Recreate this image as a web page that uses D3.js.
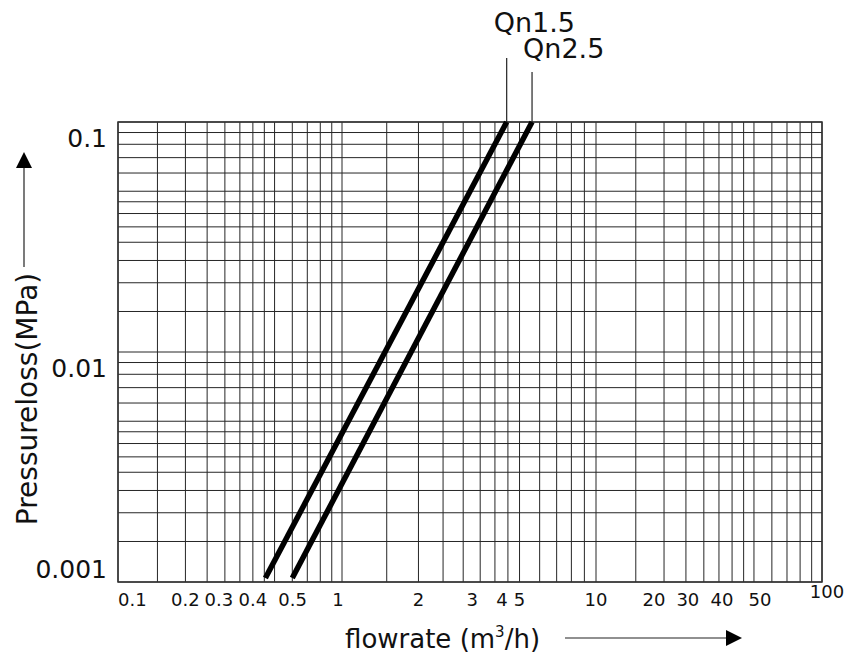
<!DOCTYPE html>
<html>
<head>
<meta charset="utf-8">
<script src="https://cdn.jsdelivr.net/npm/d3@7"></script>
<style>
  body { margin: 0; background: #fff; }
  svg { display: block; font-family: "DejaVu Sans", sans-serif; }
</style>
</head>
<body>
<svg width="849" height="660"></svg>
<script>
/*
 * Pressure loss vs flow rate, log-log
 */

// axis values
const xTicks = [0.1, 0.2, 0.3, 0.4, 0.5, 1, 2, 3, 4, 5, 10, 20, 30, 40, 50, 100];
const yTicks = [0.1, 0.01, 0.001];
const xDecades = [0.1, 1, 10, 100];
const yDecades = [0.001, 0.01, 0.1];
// grid lines inside each decade (multiples of the decade start)
const gridSteps = [1.5, 2, 2.5, 3, 3.5, 4, 4.5, 5, 6, 7, 8, 9];

// series: [flowrate m3/h, pressure loss MPa]
const seriesNames = ['Qn1.5', 'Qn2.5'];
const qn15 = [[0.455, 0.00104], [4.45, 0.1]];
const qn25 = [[0.60, 0.00104], [5.6, 0.1]];
const series = [qn15, qn25];

const $svg = d3.select('svg');

// the printed chart is not a perfect log paper, so the decades get their own widths
const x = d3.scaleLog().domain(xDecades).range([118, 342, 596, 822]);
const y = d3.scaleLog().domain([yDecades[0], yDecades[2]]).range([582, 122]);

const [x0, x1] = [x.range()[0], x.range()[3]];
const [y0, y1] = y.range();

// the tick labels on the original are set by hand, nudge them the same way
const labelNudge = {0.3: -6, 0.5: 18, 1: -4, 3: 9, 4: 7, 20: -10, 30: -16, 40: -10, 50: 6, 100: 5};

function gridValues(decades) {
  const vals = [];
  decades.forEach(function(d, i) {
    vals.push(d);
    if (i < decades.length - 1) {
      gridSteps.forEach(function(s) { vals.push(d * s); });
    }
  });
  return vals;
}

// grid
const $grid = $svg.append('g').attr('stroke', '#262626').attr('stroke-width', 1);
$grid.selectAll('.vx')
  .data(gridValues(xDecades))
  .enter().append('line')
    .attr('x1', d => x(d)).attr('x2', d => x(d))
    .attr('y1', y0).attr('y2', y1);
$grid.selectAll('.hy')
  .data(gridValues(yDecades))
  .enter().append('line')
    .attr('y1', d => y(d)).attr('y2', d => y(d))
    .attr('x1', x0).attr('x2', x1);

// frame
$svg.append('rect')
  .attr('x', x0).attr('y', y1)
  .attr('width', x1 - x0).attr('height', y0 - y1)
  .attr('fill', 'none').attr('stroke', '#333').attr('stroke-width', 1.5);

// x tick labels
$svg.append('g').selectAll('text')
  .data(xTicks)
  .enter().append('text')
    .attr('x', d => x(d) + (labelNudge[d] || 0))
    .attr('y', d => d === 100 ? 598 : 606)
    .attr('text-anchor', d => d === 0.1 ? 'start' : 'middle')
    .attr('font-size', 18)
    .attr('fill', '#111')
    .text(d => d);

// y tick labels, placed under their line, the lowest one above the axis
$svg.append('g').selectAll('text')
  .data(yTicks)
  .enter().append('text')
    .attr('x', 107)
    .attr('y', d => d === yDecades[0] ? y(d) - 4 : y(d) + 25)
    .attr('text-anchor', 'end')
    .attr('font-size', 25)
    .attr('fill', '#111')
    .text(d => d);

// curves
const line = d3.line().x(d => x(d[0])).y(d => y(d[1]));
$svg.append('g').selectAll('path')
  .data(series)
  .enter().append('path')
    .attr('d', line)
    .attr('fill', 'none')
    .attr('stroke', '#000')
    .attr('stroke-width', 5.5);

// leaders and labels
const leaderTop = [58, 72];
const labelY = [32, 58];
const labelDx = [-13, -9];
series.forEach(function(s, i) {
  const top = s[s.length - 1];
  const lx = x(top[0]);
  $svg.append('line')
    .attr('x1', lx).attr('x2', lx)
    .attr('y1', y(top[1])).attr('y2', leaderTop[i])
    .attr('stroke', '#222').attr('stroke-width', 1.2);
  $svg.append('text')
    .attr('x', lx + labelDx[i]).attr('y', labelY[i])
    .attr('font-size', 27)
    .attr('fill', '#111')
    .text(seriesNames[i]);
});

// axis titles with arrows
const $xt = $svg.append('text')
  .attr('x', 345).attr('y', 648)
  .attr('font-size', 26)
  .attr('fill', '#111');
$xt.append('tspan').text('flowrate (m');
$xt.append('tspan').attr('font-size', 15).attr('dy', -11).text('3');
$xt.append('tspan').attr('dy', 11).text('/h)');

$svg.append('line')
  .attr('x1', 565).attr('x2', 728).attr('y1', 638).attr('y2', 638)
  .attr('stroke', '#222').attr('stroke-width', 1.2);
$svg.append('path')
  .attr('d', 'M742,638 L726,630 L726,646 Z')
  .attr('fill', '#000');

$svg.append('text')
  .attr('transform', 'translate(37,399) rotate(-90)')
  .attr('text-anchor', 'middle')
  .attr('font-size', 28)
  .attr('fill', '#111')
  .text('Pressureloss(MPa)');

$svg.append('line')
  .attr('x1', 24).attr('x2', 24).attr('y1', 267).attr('y2', 166)
  .attr('stroke', '#222').attr('stroke-width', 1.2);
$svg.append('path')
  .attr('d', 'M24,152 L16,168 L32,168 Z')
  .attr('fill', '#000');
</script>
</body>
</html>
